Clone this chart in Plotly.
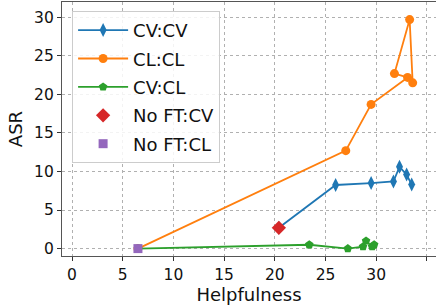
import plotly.graph_objects as go

cvcv_x = [20.4, 26.0, 29.5, 31.7, 32.3, 33.0, 33.5]
cvcv_y = [2.7, 8.25, 8.5, 8.7, 10.6, 9.6, 8.3]
clcl_x = [6.5, 27.0, 29.5, 33.1, 31.8, 33.3, 33.6]
clcl_y = [0.0, 12.7, 18.7, 22.2, 22.7, 29.7, 21.5]
cvcl_x = [6.5, 23.4, 27.2, 28.7, 29.0, 29.6, 29.8]
cvcl_y = [0.0, 0.5, 0.0, 0.25, 1.0, 0.25, 0.5]
noft_cv = ([20.4], [2.7])
noft_cl = ([6.5], [0.0])
x_ticks = [0, 5, 10, 15, 20, 25, 30, 35]
y_ticks = [0, 5, 10, 15, 20, 25, 30]

BLUE, ORANGE, GREEN, RED, PURPLE = "#1f77b4", "#ff7f0e", "#2ca02c", "#d62728", "#9467bd"
FONT = "DejaVu Sans"

fig = go.Figure()
fig.add_trace(go.Scatter(x=cvcv_x, y=cvcv_y, mode="lines+markers", name="CV:CV", legendgroup="a",
                         line=dict(color=BLUE, width=1.8),
                         marker=dict(symbol="diamond-tall", size=10, color=BLUE)))
fig.add_trace(go.Scatter(x=clcl_x, y=clcl_y, mode="lines+markers", name="CL:CL", legendgroup="b",
                         line=dict(color=ORANGE, width=1.8),
                         marker=dict(symbol="circle", size=9, color=ORANGE)))
fig.add_trace(go.Scatter(x=cvcl_x, y=cvcl_y, mode="lines+markers", name="CV:CL", legendgroup="c",
                         line=dict(color=GREEN, width=1.8),
                         marker=dict(symbol="pentagon", size=9, color=GREEN)))
fig.add_trace(go.Scatter(x=noft_cv[0], y=noft_cv[1], mode="markers", name="No FT:CV", legendgroup="d",
                         marker=dict(symbol="diamond", size=11, color=RED)))
fig.add_trace(go.Scatter(x=noft_cl[0], y=noft_cl[1], mode="markers", name="No FT:CL", legendgroup="e",
                         marker=dict(symbol="square", size=9, color=PURPLE)))

axis_common = dict(showgrid=True, gridcolor="#b0b0b0", griddash="dot", gridwidth=1,
                   showline=True, linecolor="#555555", linewidth=1.3,
                   ticks="outside", ticklen=4, tickcolor="#333333", zeroline=False,
                   automargin=False,
                   tickfont=dict(size=15.5, color="#111111", family=FONT),
                   title_font=dict(size=18, color="#111111", family=FONT))

fig.update_xaxes(range=[-0.99, 35.9], tickvals=x_ticks, title_text="Helpfulness",
                 title_standoff=4, mirror=True, **axis_common)
fig.update_yaxes(range=[-0.96, 31.98], tickvals=y_ticks, title_text="ASR",
                 title_standoff=6, mirror=False, **axis_common)

fig.update_layout(
    width=436, height=308,
    margin=dict(l=62, r=0, t=2, b=52, autoexpand=False),
    paper_bgcolor="white", plot_bgcolor="white",
    font=dict(family=FONT, size=15, color="#111111"),
    showlegend=True,
    legend=dict(x=0.027, y=0.965, xanchor="left", yanchor="top",
                bgcolor="rgba(255,255,255,0.85)", bordercolor="#cccccc", borderwidth=1,
                font=dict(size=18, family=FONT), tracegroupgap=2,
                itemwidth=50),
)

fig.write_html("out.html", config={"displayModeBar": False},
               post_script="document.body.style.margin='0';document.body.style.overflow='hidden';")
